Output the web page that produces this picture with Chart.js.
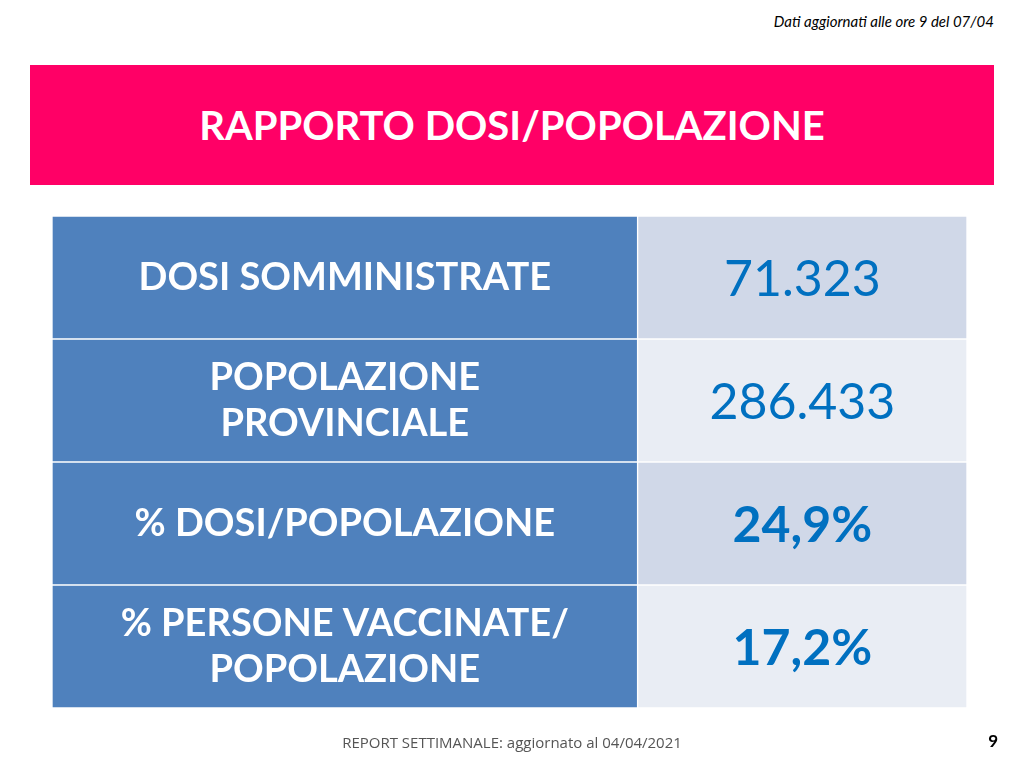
<!DOCTYPE html>
<html><head><meta charset="utf-8">
<script src="https://cdn.jsdelivr.net/npm/chart.js@4"></script>
<style>
body{margin:0;background:#fff;font-family:Lato,"Open Sans",sans-serif}
#wrap{position:relative;width:1024px;height:768px}
canvas{position:absolute;left:0;top:0}
.band{position:absolute;left:30px;top:65px;width:964px;height:120px;background:#FF0066;color:#fff;font-weight:bold;font-size:40px;display:flex;align-items:center;justify-content:center}
.note{position:absolute;right:30px;top:12px;font-style:italic;font-size:15px;color:#000}
.foot{position:absolute;left:0;width:1024px;top:732px;text-align:center;font-family:"Open Sans";font-size:15px;color:#555}
.pg{position:absolute;right:26px;top:730px;font-weight:bold;font-size:17px}
</style></head><body>
<div id="wrap">
<div class="note">Dati aggiornati alle ore 9 del 07/04</div>
<div class="band">RAPPORTO DOSI/POPOLAZIONE</div>
<canvas id="c" width="1024" height="768"></canvas>
<div class="foot">REPORT SETTIMANALE: aggiornato al 04/04/2021</div>
<div class="pg">9</div>
</div>
<script>
const rowLabels = [['DOSI SOMMINISTRATE'], ['POPOLAZIONE', 'PROVINCIALE'], ['% DOSI/POPOLAZIONE'], ['% PERSONE VACCINATE/', 'POPOLAZIONE']];
const rowValues = ['71.323', '286.433', '24,9%', '17,2%'];
const valueBold = [false, false, true, true];

const cellText = {
  id: 'cellText',
  afterDatasetsDraw(chart) {
    const ctx = chart.ctx;
    ctx.save();
    ctx.textAlign = 'center';
    ctx.textBaseline = 'middle';
    chart.getDatasetMeta(0).data.forEach((bar, i) => {
      const cx = (bar.x + bar.base) / 2;
      const lines = rowLabels[i];
      ctx.fillStyle = '#fff';
      ctx.font = 'bold 38px Lato';
      lines.forEach((l, k) => ctx.fillText(l, cx, bar.y + (k - (lines.length - 1) / 2) * 46));
    });
    chart.getDatasetMeta(1).data.forEach((bar, i) => {
      const cx = (bar.x + bar.base) / 2;
      ctx.fillStyle = '#0070C0';
      ctx.font = (valueBold[i] ? 'bold ' : '') + '50px Lato';
      ctx.fillText(rowValues[i], cx, bar.y + 2);
    });
    ctx.restore();
  }
};

new Chart(document.getElementById('c').getContext('2d'), {
  type: 'bar',
  data: {
    labels: rowLabels.map(l => l.join(' ')),
    datasets: [{
      data: rowLabels.map(() => [0, 64]),
      backgroundColor: '#4F81BD',
      borderColor: '#fff', borderWidth: 1, borderSkipped: false
    }, {
      data: rowValues.map(() => [64, 100]),
      backgroundColor: ['#D0D8E8', '#E9EDF4', '#D0D8E8', '#E9EDF4'],
      borderColor: '#fff', borderWidth: 1, borderSkipped: false
    }]
  },
  options: {
    indexAxis: 'y',
    responsive: false,
    animation: false,
    layout: { padding: { left: 52, right: 57, top: 216, bottom: 60 } },
    datasets: { bar: { barPercentage: 1, categoryPercentage: 1, grouped: false } },
    scales: {
      x: { display: false, min: 0, max: 100 },
      y: { display: false }
    },
    plugins: { legend: { display: false }, tooltip: { enabled: false } }
  },
  plugins: [cellText]
});
</script>
</body></html>
